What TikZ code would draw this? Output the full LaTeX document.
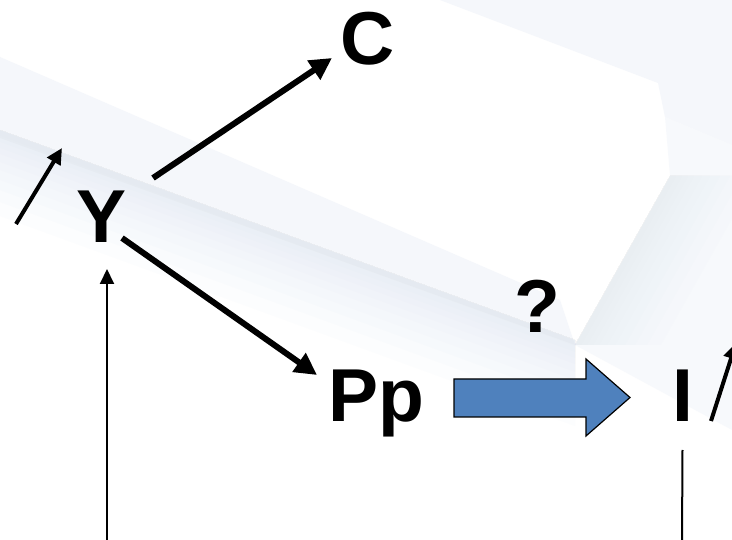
\documentclass[tikz,border=0pt]{standalone}
\usepackage{fontspec}
\setmainfont{Liberation Sans}
\usetikzlibrary{arrows.meta,calc}
\definecolor{keyblue}{HTML}{4F81BD}
\definecolor{bgA}{HTML}{F5F7FB}
\definecolor{bgB}{HTML}{DCE4F1}
\begin{document}
\begin{tikzpicture}[x=1pt,y=-1pt,
  lbl/.style={font=\fontsize{75}{75}\selectfont\bfseries, inner sep=0pt, anchor=base},
  bigarrow/.style={line width=6pt, -{Triangle[length=22pt,width=22pt]}},
  smallarrow/.style={line width=4pt, -{Triangle[length=16pt,width=15pt]}},
  thinarrow/.style={line width=2pt, -{Triangle[length=15pt,width=14pt]}},
  thinline/.style={line width=2pt},
  blockarrow/.style={fill=keyblue, draw=black, line width=1.2pt, line join=miter}]
\useasboundingbox (0,0) rectangle (732,540);
\clip (0,0) rectangle (732,540);
\fill[white] (0,0) rectangle (732,540);
% faint background (key)
\fill[bgA] (440,0) -- (732,0) -- (732,145) -- (665,117) -- (658,83) -- cycle;
\fill[bgA, opacity=0.7] (665,117) -- (732,145) -- (732,430) -- (575,345) -- (670,176) -- cycle;
\fill[bgA] (0,57) -- (560,300) -- (575,345) -- (0,138) -- cycle;
\foreach \d in {6,12,18,24,32,40,50,60,72,86}{
  \fill[bgB, opacity=0.07] (0,130) -- (575,340) -- (575,340+\d) -- (0,130+\d) -- cycle;
  \fill[bgB, opacity=0.05] (670,176) -- (575,345) -- (575+\d,345) -- (670+\d,176) -- cycle;
}
% nodes
\node[lbl] (C) at (368,65) {C};
\node[lbl] (Y) at (102,243) {Y};
\node[lbl] (Pp) at (376,422) {Pp};
\node[lbl] (I) at (682.5,422) {I};
\node[lbl] (Q) at (537,333) {?};
\coordinate (ya) at (16,224);
\coordinate (yb) at (62,148);
\coordinate (ia) at (711,421);
\coordinate (ib) at (736,343);
\coordinate (ybot) at (107,542);
\coordinate (ibot) at (682,542);
% connectors
\draw[bigarrow] ([shift={(51,-65)}]Y.base) -- ([shift={(-36,-7)}]C.base);
\draw[bigarrow] ([shift={(20,-5)}]Y.base) -- ([shift={(-59,-47)}]Pp.base);
\draw[thinarrow] (ybot) -- ([shift={(5,26)}]Y.base);
\draw[thinline] ([shift={(0,28)}]I.base) -- (ibot);
\draw[smallarrow] (ya) -- (yb);
\draw[smallarrow] (ia) -- (ib);
\draw[blockarrow] ([shift={(78,-43)}]Pp.base) -- ++(132,0) -- ++(0,-20) -- ++(44,38.5) -- ++(-44,38.5) -- ++(0,-19) -- ++(-132,0) -- cycle;
\end{tikzpicture}
\end{document}
